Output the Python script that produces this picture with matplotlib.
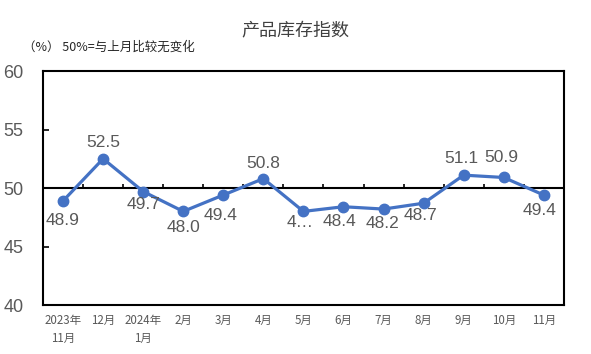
import numpy as np
import matplotlib
matplotlib.use('Agg')
import matplotlib.pyplot as plt

plt.rcParams['font.family'] = ['Noto Sans CJK SC', 'DejaVu Sans']

months = ['2023年\n11月', '12月', '2024年\n1月', '2月', '3月', '4月', '5月',
          '6月', '7月', '8月', '9月', '10月', '11月']
values = [48.9, 52.5, 49.7, 48.0, 49.4, 50.8, 48.0, 48.4, 48.2, 48.7, 51.1, 50.9, 49.4]
labels = ['48.9', '52.5', '49.7', '48.0', '49.4', '50.8', '4…', '48.4', '48.2', '48.7',
          '51.1', '50.9', '49.4']
yticks = [40, 45, 50, 55, 60]

# label offsets in pixels (dx, dy), dy positive = up
offs = [(0, -20), (0, 16), (0, -13), (0, -16), (-3, -20), (0, 15), (-3, -11),
        (-4, -15), (-1, -14), (-3, -12), (-2, 17), (-2, 20), (-4, -15)]

grey = '#595959'
blue = '#4472C4'
numfont = ['Liberation Sans', 'DejaVu Sans']

fig = plt.figure(figsize=(5.91, 3.54), dpi=100)
ax = fig.add_axes([0.0728, 0.1384, 0.954 - 0.0728, 0.7994 - 0.1384])

x = np.arange(len(values))
ax.plot(x, values, color=blue, lw=2.3, marker='o', markersize=7.5, zorder=3)

for xi, v, lab, (dx, dy) in zip(x, values, labels, offs):
    ax.annotate(lab, (xi, v), xytext=(dx * 0.72, dy * 0.72), textcoords='offset points',
                ha='center', va='center', fontsize=12.5, color=grey, family=numfont)

ax.axhline(50, color='black', lw=1.5, zorder=2)
ax.vlines(np.arange(0.5, len(values) - 1, 1), 50, 50.35, color='black', lw=1.2, zorder=2)

ax.set_xlim(-0.5, len(values) - 0.5)
ax.set_ylim(40, 60)
ax.set_yticks(yticks)
ax.set_yticklabels([str(t) for t in yticks], family=numfont)
ax.tick_params(axis='y', direction='in', length=4, width=1.2, pad=14,
               labelsize=13, labelcolor=grey)
ax.set_xticks(x)
ax.set_xticklabels(months)
ax.tick_params(axis='x', length=0, pad=6.5, labelsize=8.3, labelcolor=grey)
for lab in ax.get_xticklabels():
    lab.set_linespacing(1.5)

for s in ax.spines.values():
    s.set_color('black')
    s.set_linewidth(1.5)

fig.text(295 / 591, 1 - 30 / 354, '产品库存指数', ha='center', va='center',
         fontsize=13, color='#404040')
fig.text(23 / 591, 1 - 47 / 354, '（%） 50%=与上月比较无变化', ha='left', va='center',
         fontsize=9, color='#262626')

fig.savefig('out.png', dpi=100)
